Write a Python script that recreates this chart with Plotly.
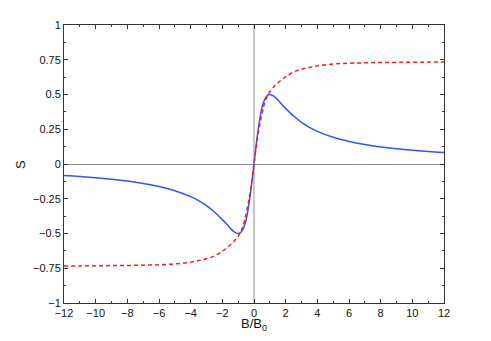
import plotly.graph_objects as go

# values
B_RATIO = [-12, -11, -10, -9, -8, -7, -6, -5, -4, -3.5, -3, -2.5, -2, -1.75, -1.5, -1.25, -1,
           -0.85, -0.7, -0.55, -0.4, -0.25, -0.1, 0, 0.1, 0.25, 0.4, 0.55, 0.7, 0.85,
           1, 1.25, 1.5, 1.75, 2, 2.5, 3, 3.5, 4, 5, 6, 7, 8, 9, 10, 11, 12]

S_SOLID = [-0.083, -0.090, -0.099, -0.110, -0.123, -0.140, -0.162, -0.192, -0.235, -0.264,
           -0.300, -0.345, -0.400, -0.430, -0.462, -0.488, -0.500,
           -0.494, -0.470, -0.425, -0.345, -0.235, -0.099, 0.0, 0.099, 0.235, 0.345, 0.425,
           0.470, 0.494, 0.500, 0.488, 0.462, 0.430, 0.400, 0.345, 0.300, 0.264, 0.235,
           0.192, 0.162, 0.140, 0.123, 0.110, 0.099, 0.090, 0.083]

S_DASHED = [-0.734, -0.733, -0.732, -0.731, -0.730, -0.728, -0.725, -0.719, -0.706, -0.695,
            -0.682, -0.662, -0.628, -0.606, -0.583, -0.555, -0.520,
            -0.490, -0.450, -0.385, -0.305, -0.210, -0.090, 0.0, 0.090, 0.210, 0.305, 0.385,
            0.450, 0.490, 0.520, 0.555, 0.583, 0.606, 0.628, 0.662, 0.682, 0.695, 0.706,
            0.719, 0.725, 0.728, 0.730, 0.731, 0.732, 0.733, 0.734]

X_TICKS = list(range(-12, 13, 2))
Y_TICKS = [-1, -0.75, -0.5, -0.25, 0, 0.25, 0.5, 0.75, 1]
Y_LABELS = ["\u22121", "\u22120.75", "\u22120.5", "\u22120.25", "0", "0.25", "0.5", "0.75", "1"]

FONT = 'Liberation Sans, Arial'

fig = go.Figure()

fig.add_trace(go.Scatter(
    x=B_RATIO, y=S_SOLID, mode='lines', line_shape='spline',
    line=dict(color='#2f55ff', width=1.5), showlegend=False
))
fig.add_trace(go.Scatter(
    x=B_RATIO, y=S_DASHED, mode='lines', line_shape='spline',
    line=dict(color='#ff1a1a', width=1.5, dash='4px,3px'), showlegend=False
))

axis_common = dict(
    showline=True, linecolor='#333', linewidth=1, mirror='ticks',
    ticks='inside', ticklen=4, tickcolor='#333', showgrid=False,
    automargin=False,
    tickfont=dict(family=FONT, size=11, color='#111'),
)

fig.update_xaxes(
    range=[-12, 12], tickvals=X_TICKS,
    zeroline=True, zerolinecolor='#c8c8c8', zerolinewidth=2,
    minor=dict(ticks='inside', ticklen=2, dtick=1, tickcolor='#333'),
    **axis_common
)
fig.update_yaxes(
    range=[-1, 1], tickvals=Y_TICKS, ticktext=Y_LABELS,
    zeroline=True, zerolinecolor='#8c8c8c', zerolinewidth=1,
    minor=dict(ticks='inside', ticklen=2, dtick=0.125, tickcolor='#333'),
    **axis_common
)

# axis titles placed by hand, as in the original figure
fig.add_annotation(text='B/B<sub>0</sub>', xref='paper', yref='paper',
                   x=0.5, y=-0.076, xanchor='center', yanchor='middle',
                   showarrow=False, font=dict(family=FONT, size=13, color='#111'))
fig.add_annotation(text='S', xref='paper', yref='paper', textangle=-90,
                   x=-0.116, y=0.5, xanchor='center', yanchor='middle',
                   showarrow=False, font=dict(family=FONT, size=13, color='#111'))

# page body adds an 8px offset, so the figure is sized to fit the window
fig.update_layout(
    width=483, height=333,
    margin=dict(l=56, r=47, t=17, b=38),
    plot_bgcolor='white', paper_bgcolor='white',
)

fig.write_html("out.html")
